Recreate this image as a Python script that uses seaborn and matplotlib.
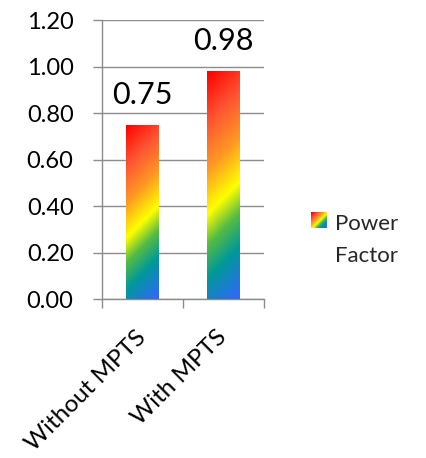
import numpy as np
import pandas as pd
import matplotlib
matplotlib.use('Agg')
import matplotlib.pyplot as plt
import seaborn as sns
from matplotlib.colors import LinearSegmentedColormap
from matplotlib.image import BboxImage
from matplotlib.legend_handler import HandlerBase
from matplotlib.patches import Patch
from matplotlib.transforms import Bbox, TransformedBbox

categories = ['Without MPTS', 'With MPTS']
power_factor = [0.75, 0.98]
series_label = 'Power\nFactor'
y_ticks = [0.0, 0.2, 0.4, 0.6, 0.8, 1.0, 1.2]

sns.set_theme(style='white')
plt.rcParams['font.family'] = ['Lato', 'DejaVu Sans']

grey = '#8c8c8c'
rainbow = LinearSegmentedColormap.from_list('rainbow_fill', [
    (0.00, '#3366ff'),
    (0.20, '#009999'),
    (0.33, '#55bb44'),
    (0.45, '#ffff00'),
    (0.62, '#ff9922'),
    (0.80, '#ff5533'),
    (1.00, '#ff0000')])


def diagonal_gradient(w_px, h_px):
    # red at top-left, blue at bottom-right, bands at 45 degrees in pixels
    nx, ny = max(int(w_px), 2), max(int(h_px), 2)
    u, v = np.meshgrid(np.linspace(0, 1, nx), np.linspace(0, 1, ny))
    return (v * h_px + (1 - u) * w_px) / (h_px + w_px)


class GradientHandler(HandlerBase):
    def __init__(self, lift=0.0):
        super().__init__()
        self.lift = lift

    def create_artists(self, legend, orig_handle, xdescent, ydescent,
                       width, height, fontsize, trans):
        box = Bbox.from_bounds(-xdescent, -ydescent + self.lift, width, height)
        img = BboxImage(TransformedBbox(box, trans), cmap=rainbow,
                        interpolation='bilinear', origin='lower')
        img.set_data(diagonal_gradient(width, height))
        img.set_clim(0, 1)
        return [img]


df = pd.DataFrame({'case': categories, 'pf': power_factor})

fig = plt.figure(figsize=(4.27, 4.58), dpi=100)
ax = fig.add_axes([0.239, 0.347, 0.379, 0.609])
sns.barplot(data=df, x='case', y='pf', width=0.4, color='white', ax=ax,
            saturation=1, linewidth=0)

ax.set_xlim(-0.5, 1.5)
ax.set_ylim(0, 1.2)
ax.set_yticks(y_ticks)
ax.set_yticklabels(['{:.2f}'.format(t) for t in y_ticks])
ax.set_xlabel('')
ax.set_ylabel('')

ax.grid(axis='y', color=grey, linewidth=1.0)
ax.set_axisbelow(True)
for side in ['top', 'right']:
    ax.spines[side].set_visible(False)
for side in ['left', 'bottom']:
    ax.spines[side].set_color(grey)
    ax.spines[side].set_linewidth(1.0)

ax.tick_params(axis='y', which='major', length=6.5, width=1.0, color=grey,
               labelsize=17, labelcolor='black', pad=14, left=True)
ax.set_xticks([-0.5, 0.5, 1.5], minor=True)
ax.tick_params(axis='x', which='minor', length=6.5, width=1.0, color=grey,
               bottom=True)
ax.tick_params(axis='x', which='major', length=0, labelsize=17.5,
               labelcolor='black', pad=25)
for lab in ax.get_xticklabels():
    lab.set_rotation(45)
    lab.set_ha('right')
    lab.set_va('center')
    lab.set_rotation_mode('anchor')

# paint each bar with the rainbow gradient
for bar in list(ax.patches):
    x0, y0 = bar.get_x(), bar.get_y()
    w, h = bar.get_width(), bar.get_height()
    p0 = ax.transData.transform((x0, y0))
    p1 = ax.transData.transform((x0 + w, y0 + h))
    w_px, h_px = abs(p1[0] - p0[0]), abs(p1[1] - p0[1])
    im = ax.imshow(diagonal_gradient(w_px, h_px), cmap=rainbow, vmin=0, vmax=1,
                   extent=(x0, x0 + w, y0, y0 + h), origin='lower',
                   aspect='auto', interpolation='bilinear', zorder=3)
    im.set_clip_path(bar)

ax.set_xlim(-0.5, 1.5)
ax.set_ylim(0, 1.2)

for i, v in enumerate(power_factor):
    ax.annotate('{:.2f}'.format(v), xy=(i, v), xytext=(0, 15),
                textcoords='offset points', ha='center', va='baseline',
                fontsize=22, color='black')

leg = ax.legend(handles=[Patch()], labels=[series_label],
                handler_map={Patch: GradientHandler(lift=14.5)},
                loc='center left', bbox_to_anchor=(0.728, 0.476),
                bbox_transform=fig.transFigure, frameon=False,
                fontsize=16, handlelength=0.72, handleheight=0.72,
                handletextpad=0.36, borderpad=0, borderaxespad=0)
for t in leg.get_texts():
    t.set_linespacing(1.75)

plt.savefig('out.png', dpi=100)
